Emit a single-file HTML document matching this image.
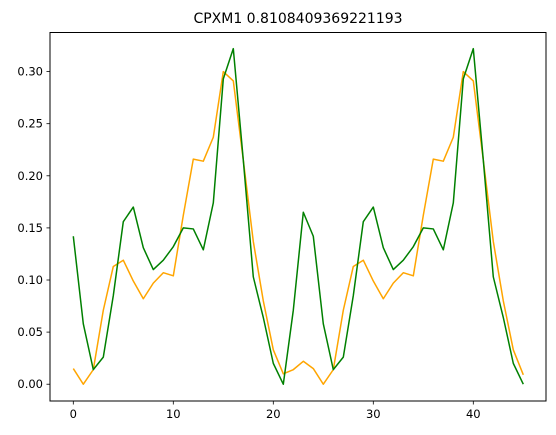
<!DOCTYPE html>
<html><head><meta charset="utf-8"><style>
html,body{margin:0;padding:0;background:#fff;}
svg{display:block;font-family:"DejaVu Sans","Liberation Sans",sans-serif;}
</style></head><body>
<svg id="chart" width="556" height="435" viewBox="0 0 556 435" xmlns="http://www.w3.org/2000/svg">
<text x="298" y="23" text-anchor="middle" font-size="14">CPXM1 0.8108409369221193</text>
<g id="axes"></g>
</svg>
<script>
const greenValues = [0.142,0.058,0.014,0.026,0.085,0.156,0.170,0.131,0.110,0.119,0.132,0.150,0.149,0.129,0.174,0.293,0.322,0.215,0.103,0.064,0.020,0.000,0.071,0.165,0.142,0.058,0.014,0.026,0.085,0.156,0.170,0.131,0.110,0.119,0.132,0.150,0.149,0.129,0.174,0.293,0.322,0.215,0.103,0.064,0.020,0.000];
const orangeValues = [0.015,0.000,0.014,0.071,0.113,0.119,0.099,0.082,0.097,0.107,0.104,0.162,0.216,0.214,0.237,0.300,0.291,0.215,0.137,0.080,0.033,0.010,0.014,0.022,0.015,0.000,0.014,0.071,0.113,0.119,0.099,0.082,0.097,0.107,0.104,0.162,0.216,0.214,0.237,0.300,0.291,0.215,0.137,0.080,0.033,0.009];
const xTicks = [0,10,20,30,40];
const yTicks = [0.00,0.05,0.10,0.15,0.20,0.25,0.30];

const L=50,R=546,T=32.5,B=401;
const xMin=-2.33,xMax=47.27,yMin=-0.0161,yMax=0.3375;
const sx=v=>L+(v-xMin)/(xMax-xMin)*(R-L);
const sy=v=>B-(v-yMin)/(yMax-yMin)*(B-T);
const NS="http://www.w3.org/2000/svg";
const g=document.getElementById('axes');
function mk(tag,attrs){const e=document.createElementNS(NS,tag);for(const k in attrs)e.setAttribute(k,attrs[k]);g.appendChild(e);return e;}

function line(vals,color,name){
  const d=vals.map((v,i)=>(i?'L':'M')+sx(i).toFixed(2)+','+sy(v).toFixed(2)).join('');
  const p=mk('path',{d:d,fill:'none',stroke:color,'stroke-width':1.5,'stroke-linejoin':'round'});
  
  
}
line(orangeValues,'#ffa500','orange-series-line');
line(greenValues,'#008000','green-series-line');

const frame=mk('rect',{x:L,y:T,width:R-L,height:B-T,fill:'none',stroke:'#000','stroke-width':1});



xTicks.forEach(t=>{
  const x=sx(t);
  const tk=mk('line',{x1:x,x2:x,y1:B,y2:B+3.5,stroke:'#000','stroke-width':0.8});
  
  
  const tx=mk('text',{x:x,y:B+17,'text-anchor':'middle','font-size':11.5});
  tx.textContent=t;
  
  
});
yTicks.forEach(t=>{
  const y=sy(t);
  const tk=mk('line',{x1:L-3.5,x2:L,y1:y,y2:y,stroke:'#000','stroke-width':0.8});
  
  
  const tx=mk('text',{x:L-7,y:y+4,'text-anchor':'end','font-size':11.5});
  tx.textContent=t.toFixed(2);
  
  
});
</script>
</body></html>
